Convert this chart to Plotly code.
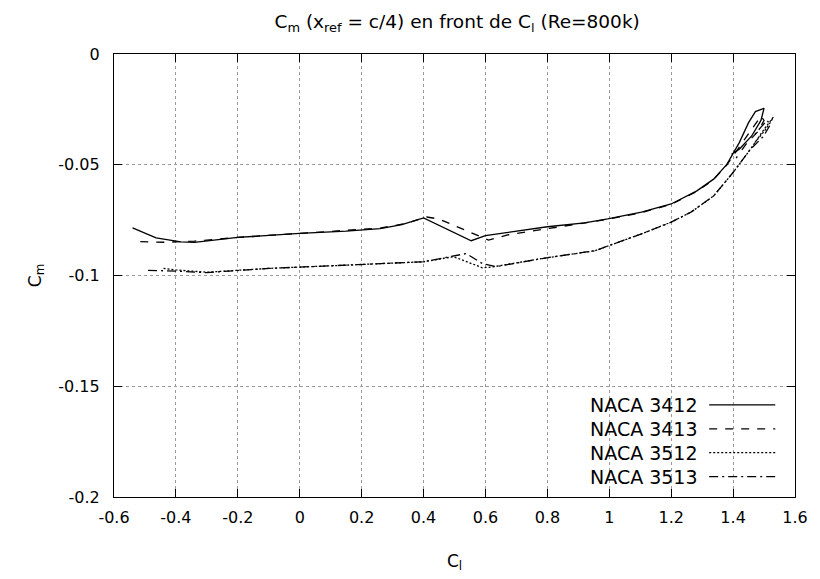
import plotly.graph_objects as go

# ---- data ----
cl_3412 = [-0.54, -0.464, -0.384, -0.34, -0.2, 0.0, 0.15, 0.26, 0.33, 0.40, 0.554, 0.60, 0.80, 0.92, 0.995, 1.104, 1.20, 1.283, 1.337, 1.38, 1.42, 1.45, 1.472, 1.50, 1.49, 1.46, 1.42, 1.395]
cm_3412 = [-0.0785, -0.083, -0.0848, -0.085, -0.0828, -0.0810, -0.0800, -0.0788, -0.0770, -0.0740, -0.0843, -0.0820, -0.0780, -0.0762, -0.0744, -0.0714, -0.0677, -0.0618, -0.0565, -0.0498, -0.0400, -0.0310, -0.0260, -0.0245, -0.0300, -0.0370, -0.0430, -0.0453]

cl_3413 = [-0.515, -0.435, -0.34, -0.2, 0.0, 0.15, 0.26, 0.34, 0.41, 0.45, 0.61, 0.675, 0.78, 0.89, 1.0, 1.104, 1.20, 1.283, 1.337, 1.38, 1.42, 1.46, 1.49, 1.50, 1.48, 1.44, 1.41]
cm_3413 = [-0.0847, -0.0850, -0.0845, -0.0828, -0.0810, -0.0798, -0.0786, -0.0766, -0.0736, -0.0745, -0.0840, -0.0816, -0.0794, -0.0771, -0.0745, -0.0716, -0.0679, -0.0620, -0.0567, -0.0500, -0.0420, -0.0340, -0.0280, -0.0300, -0.0350, -0.0410, -0.0470]

cl_3512 = [-0.44, -0.40, -0.30, -0.1, 0.12, 0.40, 0.497, 0.59, 0.62, 0.78, 0.954, 1.104, 1.20, 1.264, 1.337, 1.40, 1.456, 1.50, 1.53, 1.52, 1.50, 1.47]
cm_3512 = [-0.0968, -0.0975, -0.0985, -0.0968, -0.0955, -0.0938, -0.0915, -0.0965, -0.0962, -0.0924, -0.0888, -0.0812, -0.0759, -0.0714, -0.0641, -0.0535, -0.0430, -0.0340, -0.0285, -0.0310, -0.0350, -0.0400]

cl_3513 = [-0.49, -0.40, -0.30, -0.1, 0.12, 0.40, 0.538, 0.59, 0.634, 0.78, 0.954, 1.104, 1.20, 1.264, 1.337, 1.40, 1.456, 1.498, 1.52, 1.51, 1.49, 1.46]
cm_3513 = [-0.0977, -0.0980, -0.0987, -0.0968, -0.0955, -0.0938, -0.0901, -0.0946, -0.0960, -0.0924, -0.0888, -0.0812, -0.0759, -0.0714, -0.0641, -0.0535, -0.0430, -0.0372, -0.0320, -0.0300, -0.0330, -0.0380]

series_names = ["NACA 3412", "NACA 3413", "NACA 3512", "NACA 3513"]
dashes = ["solid", "8px,8px", "2px,2px", "9px,4px,2px,4px"]

x_ticks = [-0.6, -0.4, -0.2, 0, 0.2, 0.4, 0.6, 0.8, 1, 1.2, 1.4, 1.6]
x_ticktext = ["-0.6", "-0.4", "-0.2", "0", "0.2", "0.4", "0.6", "0.8", "1", "1.2", "1.4", "1.6"]
y_ticks = [0, -0.05, -0.1, -0.15, -0.2]
y_ticktext = ["0", "-0.05", "-0.1", "-0.15", "-0.2"]

FONT = "DejaVu Sans"

fig = go.Figure()
data = [(cl_3412, cm_3412), (cl_3413, cm_3413), (cl_3512, cm_3512), (cl_3513, cm_3513)]
for (xs, ys), name, d in zip(data, series_names, dashes):
    fig.add_trace(go.Scatter(x=xs, y=ys, mode="lines", name=name,
                             line=dict(color="black", width=1.3, dash=d),
                             showlegend=False))

# manual legend (text right-aligned, key on the right, as in the reference)
leg_y = [0.208, 0.154, 0.100, 0.046]
for name, d, yy in zip(series_names, dashes, leg_y):
    fig.add_annotation(x=0.861, y=yy, xref="paper", yref="paper", text=name,
                       showarrow=False, xanchor="right", yanchor="middle",
                       font=dict(family=FONT, size=19, color="black"))
    fig.add_shape(type="line", xref="paper", yref="paper",
                  x0=0.874, x1=0.971, y0=yy, y1=yy,
                  line=dict(color="black", width=1.3, dash=d))

axis_common = dict(showline=True, linecolor="black", linewidth=1.3, mirror="ticks",
                   ticks="inside", ticklen=8, tickcolor="black",
                   showgrid=True, gridcolor="#9a9a9a", griddash="dot", gridwidth=1,
                   zeroline=False, tickfont=dict(family=FONT, size=16, color="black"))

fig.update_xaxes(range=[-0.6, 1.6], tickvals=x_ticks, ticktext=x_ticktext,
                 ticklabelstandoff=6,
                 title=dict(text="C<sub>l</sub>", font=dict(family=FONT, size=17, color="black"), standoff=28),
                 **axis_common)
fig.update_yaxes(range=[-0.2, 0], tickvals=y_ticks, ticktext=y_ticktext,
                 ticklabelstandoff=10,
                 title=dict(text="C<sub>m</sub>", font=dict(family=FONT, size=17, color="black"), standoff=12),
                 **axis_common)

fig.update_layout(
    width=820, height=579,
    margin=dict(l=114, r=18, t=54, b=79),
    paper_bgcolor="white", plot_bgcolor="white",
    title=dict(text="C<sub>m</sub> (x<sub>ref</sub> = c/4) en front de C<sub>l</sub> (Re=800k)",
               x=0.5575, xanchor="center", y=0.962, yanchor="middle",
               font=dict(family=FONT, size=18.5, color="black")),
    font=dict(family=FONT, size=16, color="black"),
)

fig.write_html("out.html")
